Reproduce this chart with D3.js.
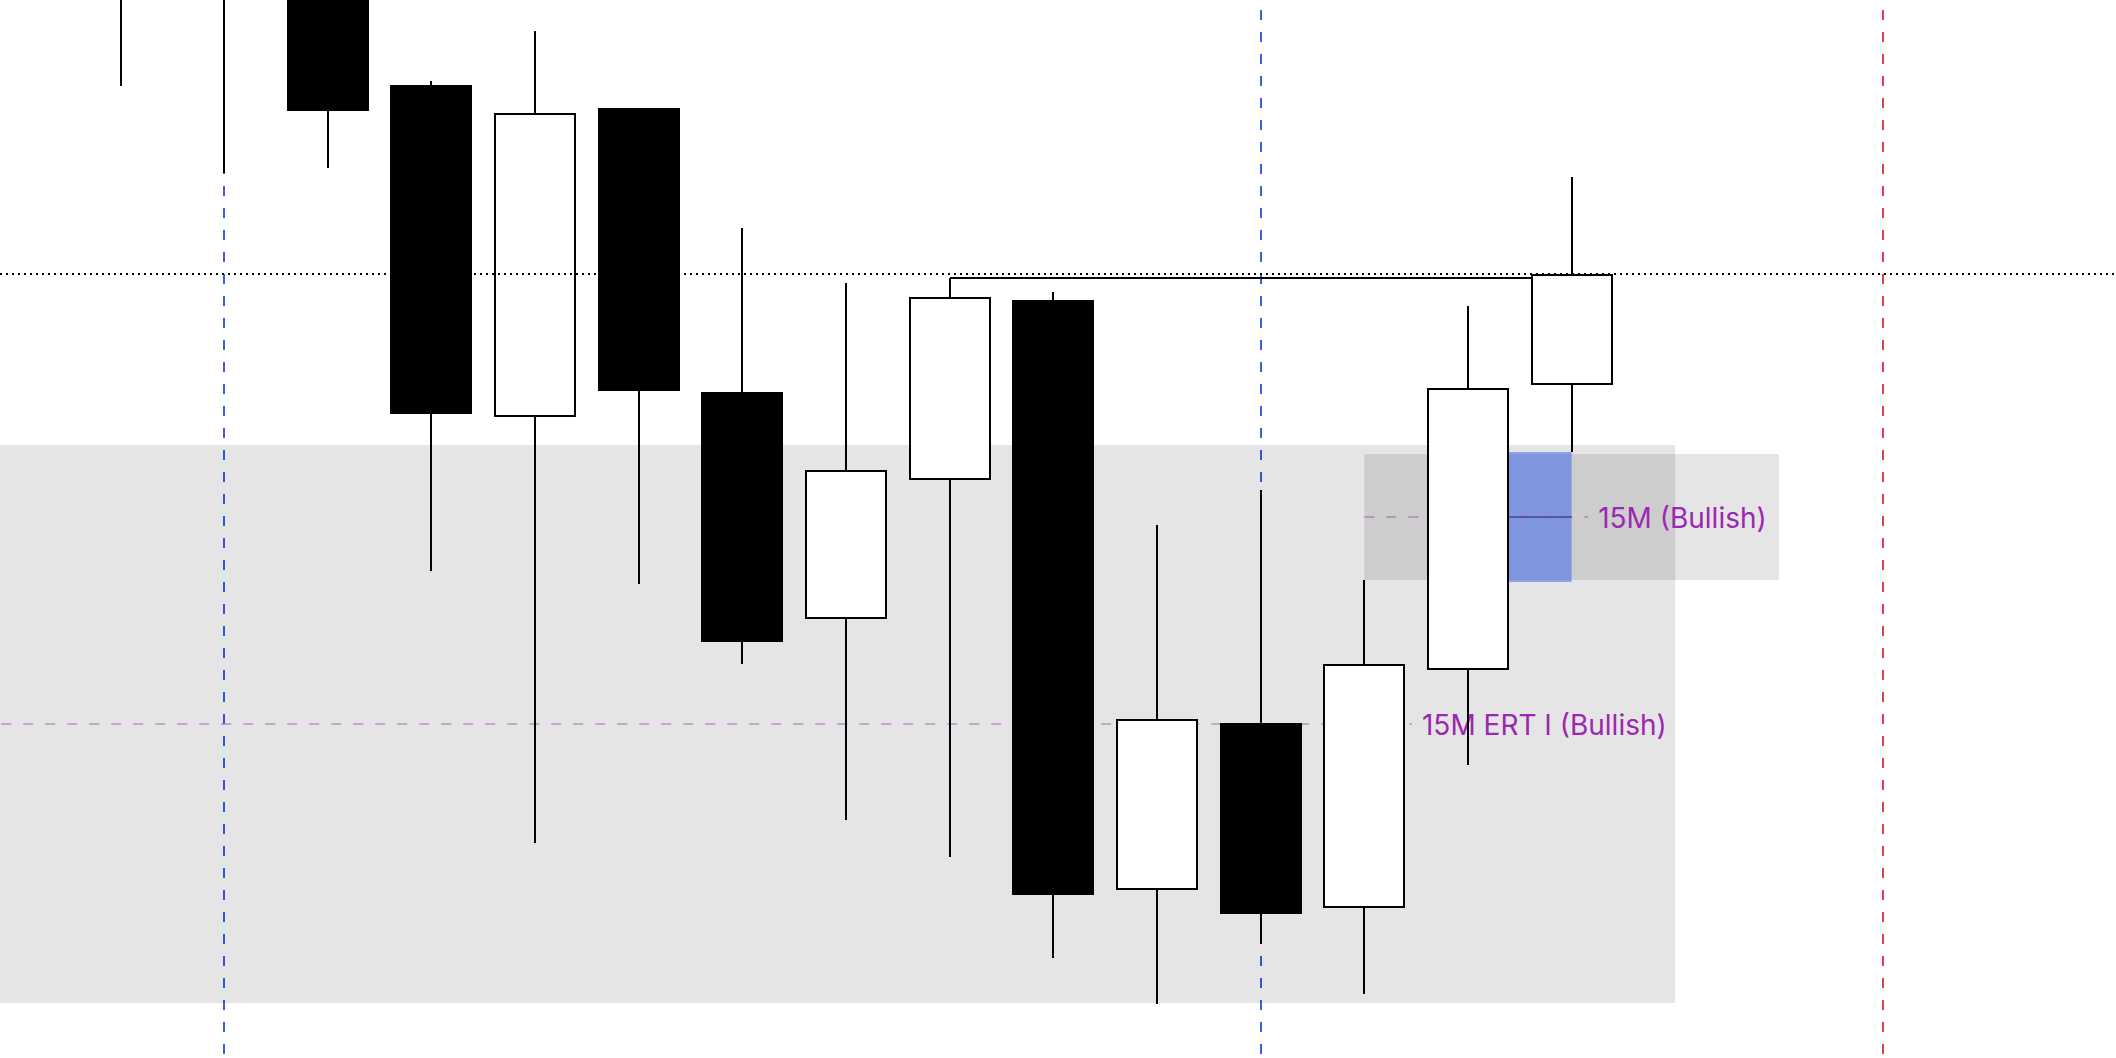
<!DOCTYPE html>
<html>
<head>
<meta charset="utf-8">
<script src="https://cdn.jsdelivr.net/npm/d3@7.9.0/dist/d3.min.js"></script>
<style>
  html, body { margin: 0; padding: 0; background: #fff; overflow: hidden; }
  svg { display: block; }
  .label { font-family: Inter, "Noto Sans", sans-serif; font-size: 28px; fill: #9c27b0; }
</style>
</head>
<body>
<svg id="chart"></svg>
<script>
// --- DATA ---
// 15 candles, one per slot (index 0..14); bodies of the first three run off the top
const opens  = [18515, 18504, 18512, 18478.5, 18396, 18472.75, 18401.75, 18345.5, 18380.25, 18424.75, 18277.75, 18319, 18273.25, 18332.75, 18404];
const highs  = [18522, 18526, 18519, 18479.75, 18492.25, 18472.75, 18443, 18429.25, 18430.5, 18427, 18368.75, 18377.5, 18355, 18423.5, 18455.75];
const lows   = [18478.5, 18456.75, 18458, 18357.25, 18289.25, 18354, 18334, 18295, 18285.75, 18260.5, 18249, 18264, 18251.5, 18308.75, 18387];
const closes = [18506, 18518, 18472.5, 18396.75, 18471.5, 18402.5, 18339.75, 18382.25, 18425.5, 18276.5, 18320, 18271.75, 18333.75, 18402.75, 18431.25];

// zones: [startIdx, endIdx, top, bottom]
const rangeZone = [-2, 15, 18388.75, 18249.25];
const orderBlock = [12, 16, 18386.5, 18355];
const fvgZone = [13, 14, 18387, 18354.5];

// labelled levels
const levelNames  = ['15M ERT I (Bullish)', '15M (Bullish)'];
const levelPrices = [18319, (orderBlock[2] + orderBlock[3]) / 2];
const levelStart  = [-2, 12];
const levelEnd    = [12.46, 14.16];

// liquidity line from candle 9 high, current price line
const liqLine = [8, 14, 18430.5];
const lastPrice = 18431.5;

// vertical session markers (slot index)
const blueMarks = [1, 11];
const redMarks = [17];

// --- SETUP ---
const width = 2116, height = 1058;
const svg = d3.select('#chart').attr('width', width).attr('height', height);

const x = d3.scaleLinear().domain([0, 17]).range([120.5, 1882.55]);
const y = d3.scaleLinear().domain([18500, 18235.5]).range([0, height]);
const px = v => Math.round(x(v)); // snap thin vertical lines to whole pixels
const bodyW = 80;

const candles = opens.map((o, i) => ({ i, o, h: highs[i], l: lows[i], c: closes[i] }));

// --- VERTICAL MARKERS ---
const vmarks = blueMarks.map(i => ({ i, color: '#3561ea' }))
    .concat(redMarks.map(i => ({ i, color: '#e0404c' })));
svg.append('g').selectAll('line')
    .data(vmarks)
    .join('line')
    .attr('x1', d => px(d.i)).attr('x2', d => px(d.i))
    .attr('y1', 0).attr('y2', height)
    .attr('stroke', d => d.color)
    .attr('stroke-width', 2)
    .attr('stroke-dasharray', '10,12')
    .attr('stroke-dashoffset', 12);

// --- ZONES ---
const zoneG = svg.append('g');
[rangeZone, orderBlock].forEach(z => {
    zoneG.append('rect')
        .attr('x', x(z[0])).attr('width', x(z[1]) - x(z[0]))
        .attr('y', y(z[2])).attr('height', y(z[3]) - y(z[2]))
        .attr('fill', 'rgba(0,0,0,0.1)');
});
zoneG.append('rect')
    .attr('x', x(fvgZone[0])).attr('width', x(fvgZone[1]) - x(fvgZone[0]))
    .attr('y', y(fvgZone[2])).attr('height', y(fvgZone[3]) - y(fvgZone[2]))
    .attr('fill', 'rgba(50,95,240,0.5)');
zoneG.append('line')
    .attr('x1', x(fvgZone[0])).attr('x2', x(fvgZone[1]))
    .attr('y1', y(levelPrices[1])).attr('y2', y(levelPrices[1]))
    .attr('stroke', '#4a5cb2').attr('stroke-width', 2);

// --- LEVELS ---
const levels = levelNames.map((name, k) => ({ name, p: levelPrices[k], s: levelStart[k], e: levelEnd[k] }));
const lvG = svg.append('g');
lvG.selectAll('line')
    .data(levels)
    .join('line')
    .attr('x1', d => x(d.s)).attr('x2', d => x(d.e))
    .attr('y1', d => y(d.p)).attr('y2', d => y(d.p))
    .attr('stroke', '#9c27b0')
    .attr('stroke-opacity', 0.35)
    .attr('stroke-width', 2)
    .attr('stroke-dasharray', '10,12');
lvG.selectAll('text')
    .data(levels)
    .join('text')
    .attr('class', 'label')
    .attr('x', d => x(d.e) + 10)
    .attr('y', d => y(d.p))
    .attr('dy', '0.38em')
    .text(d => d.name);

// --- LIQUIDITY LINE ---
svg.append('line')
    .attr('x1', px(liqLine[0])).attr('x2', px(liqLine[1]))
    .attr('y1', y(liqLine[2])).attr('y2', y(liqLine[2]))
    .attr('stroke', '#000').attr('stroke-width', 2);

// --- CANDLES ---
const cg = svg.append('g');
cg.selectAll('line')
    .data(candles)
    .join('line')
    .attr('x1', d => px(d.i)).attr('x2', d => px(d.i))
    .attr('y1', d => y(d.h)).attr('y2', d => y(d.l))
    .attr('stroke', '#000')
    .attr('stroke-width', 2);
cg.selectAll('rect')
    .data(candles)
    .join('rect')
    .attr('x', d => px(d.i) - bodyW / 2)
    .attr('width', bodyW)
    .attr('y', d => y(Math.max(d.o, d.c)))
    .attr('height', d => Math.max(1, y(Math.min(d.o, d.c)) - y(Math.max(d.o, d.c))))
    .attr('fill', d => d.c >= d.o ? '#fff' : '#000')
    .attr('stroke', '#000')
    .attr('stroke-width', 2);

// --- LAST PRICE (dotted) ---
svg.append('line')
    .attr('x1', 0).attr('x2', width)
    .attr('y1', y(lastPrice)).attr('y2', y(lastPrice))
    .attr('stroke', '#000')
    .attr('stroke-width', 2)
    .attr('stroke-dasharray', '2,4');
</script>
</body>
</html>
